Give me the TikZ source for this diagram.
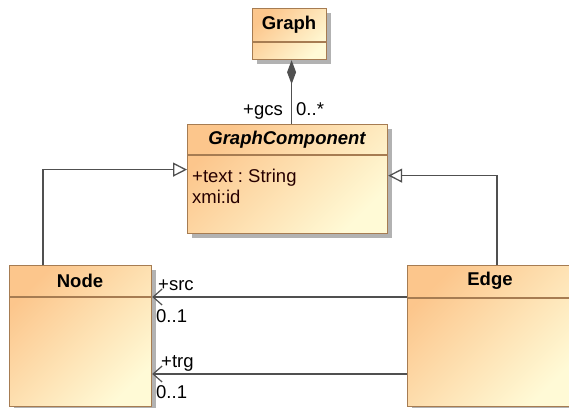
\documentclass[tikz,border=0pt]{standalone}
\usepackage{fontspec}
\setmainfont{Liberation Sans}
\frenchspacing
\usetikzlibrary{arrows.meta,shadows}

\definecolor{clstop}{RGB}{252,198,140}
\definecolor{clsbot}{RGB}{255,250,214}
\definecolor{clsline}{RGB}{166,124,82}
\definecolor{conline}{RGB}{80,80,80}

\begin{document}
\begin{tikzpicture}[x=1pt,y=-1pt,
  cls/.style={rectangle,anchor=north west,inner sep=0pt,draw=clsline,line width=1.2pt,
    top color=clstop,bottom color=clsbot,shading angle=45,
    general shadow={fill=black!30,draw=none,shadow xshift=4pt,shadow yshift=-4pt}},
  sep/.style={draw=clsline,line width=1.2pt},
  title/.style={font=\fontsize{18.5}{21}\selectfont\bfseries,inner sep=0pt},
  attr/.style={font=\fontsize{18.5}{21}\selectfont,inner sep=0pt,text=black!85!red},
  role/.style={font=\fontsize{18.5}{21}\selectfont,inner sep=0pt},
  con/.style={draw=conline,line width=1.3pt},
  gen/.style={con,-{Triangle[open,length=14pt,width=14pt,fill=white]}},
  comp/.style={con,-{Diamond[length=24pt,width=9pt]}},
  nav/.style={con,-{Straight Barb[length=9pt,width=16pt,line width=1.2pt]}}]
\useasboundingbox (0,0) rectangle (569,407);
\node[cls,minimum width=74pt,minimum height=51pt] (graph) at (252,8) {};
\draw[sep] (graph.west |- 0,42) -- (graph.east |- 0,42);
\node[title] (graphname) at (289,25) {Graph};
\node[cls,minimum width=200pt,minimum height=109pt] (gc) at (187,124) {};
\draw[sep] (gc.west |- 0,155) -- (gc.east |- 0,155);
\node[title,font=\fontsize{18.5}{21}\selectfont\bfseries\itshape] (gcname) at (287,139.5) {GraphComponent};
\node[attr,anchor=base west] (gctext) at (192,182) {+text : String};
\node[attr,anchor=base west] (gcid) at (192,203) {xmi:id};
\node[cls,minimum width=142pt,minimum height=141pt] (node) at (9,265) {};
\draw[sep] (node.west |- 0,297) -- (node.east |- 0,297);
\node[title] (nodename) at (80,281) {Node};
\node[cls,minimum width=166pt,minimum height=141pt] (edge) at (407,265) {};
\draw[sep] (edge.west |- 0,298) -- (edge.east |- 0,298);
\node[title] (edgename) at (490,281) {Edge};
\draw[comp] ([xshift=2pt]graph.south |- gc.north) -- ([xshift=2pt]graph.south);
\node[role,anchor=base east] (gcsrole) at (283,115) {+gcs};
\node[role,anchor=base west] (gcsmult) at (296,115) {0..*};
\draw[gen] ([xshift=34pt]node.north west) |- ([yshift=9.5pt]gc.west);
\draw[gen] ([xshift=90pt]edge.north west) |- ([yshift=3.5pt]gc.east);
\draw[nav] ([yshift=-32pt]edge.north west) -- ([yshift=-32pt]edge.north west -| node.east);
\node[role,anchor=base west] (srcrole) at (158,290) {+src};
\node[role,anchor=base west] (srcmult) at (156,322) {0..1};
\draw[nav] ([yshift=-109pt]edge.north west) -- ([yshift=-109pt]edge.north west -| node.east);
\node[role,anchor=base west] (trgrole) at (161,367) {+trg};
\node[role,anchor=base west] (trgmult) at (156,398) {0..1};
\end{tikzpicture}
\end{document}
